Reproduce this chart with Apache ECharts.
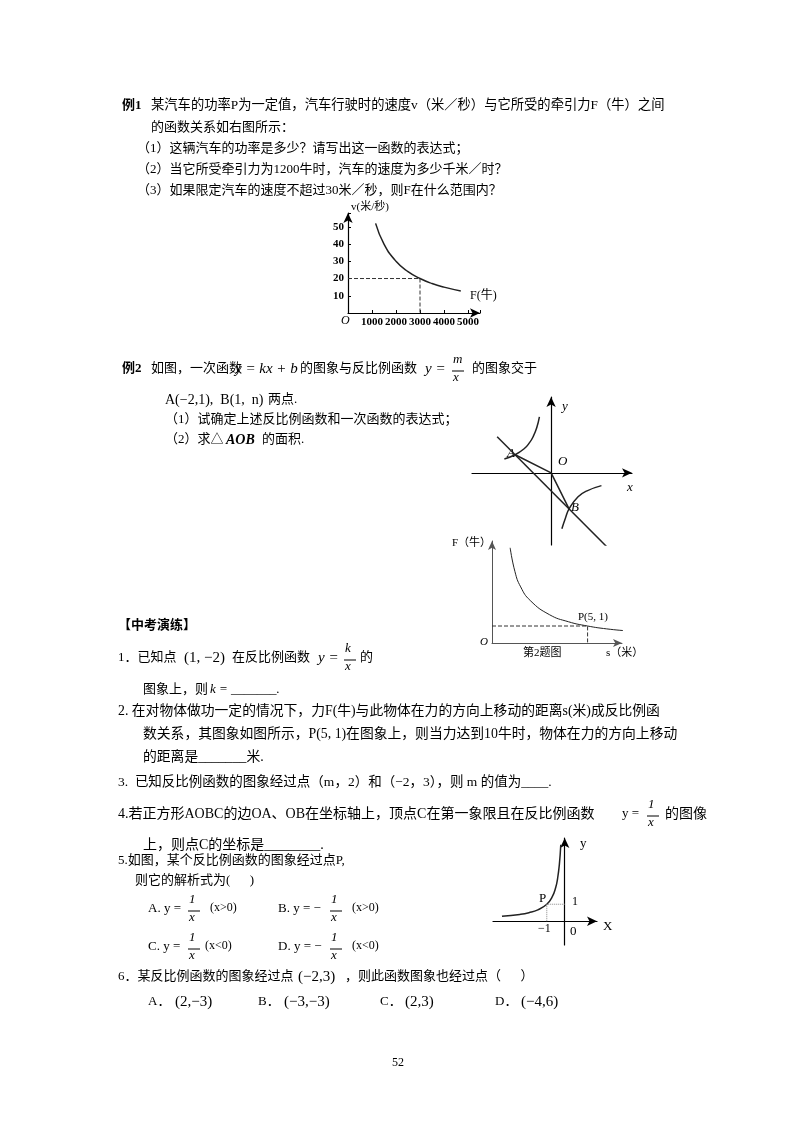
<!DOCTYPE html>
<html><head><meta charset="utf-8">
<script src="https://cdn.jsdelivr.net/npm/echarts@6/dist/echarts.min.js"></script>
<style>html,body{margin:0;padding:0;background:#fff}#c{width:800px;height:1132px}</style>
</head><body><div id="c"></div>
<script>
// Chart 1: v vs F
const c1Curve = [[1150,52],[1500,40],[2000,30],[2500,24],[3000,20],[3500,17.1],[4000,15],[4700,12.8]];
const c1Guide = [[0,20],[3000,20],[3000,0]];
const c1XTicks = [1000,2000,3000,4000,5000];
const c1YTicks = [10,20,30,40,50];
// Chart 2: y=kx+b and y=m/x
const c2Left = [[-2.6,0.77],[-2,1],[-1.5,1.33],[-1.2,1.67],[-1,2],[-0.8,2.5],[-0.65,3.1]];
const c2Right = [[0.6,-3.1],[0.8,-2.5],[1,-2],[1.5,-1.33],[2,-1],[2.8,-0.71]];
const c2Line = [[-3,2],[3.3,-4.3]];
const c2Tri = [[-2,1],[0,0],[1,-2]];
// Chart 3: F vs s
const c3Curve = [[0.95,5.6],[1.2,4.2],[1.5,3.3],[2,2.5],[3,1.67],[4,1.25],[5,1],[6,0.83],[7,0.72]];
const c3Guide = [[0,1],[5,1],[5,0]];
// Chart 4: y=-1/x, x<0
const c4Curve = [[-3.5,0.29],[-2.5,0.4],[-2,0.5],[-1.5,0.67],[-1,1],[-0.7,1.43],[-0.5,2],[-0.4,2.5],[-0.3,3.33],[-0.22,4.5]];
const c4Guide = [[-1,0],[-1,1],[0,1]];

const CJK = '"Liberation Serif","Noto Sans CJK SC"';
const G = [];
function t(x,y,s,o){o=o||{};G.push({type:'text',left:x,top:y-8,style:{text:s,fill:'#000',font:(o.it?'italic ':'')+(o.b?'bold ':'')+(o.fs||13)+'px '+(o.ff||CJK)}});}
function frac(x,y,n,d,fs){fs=fs||13;t(x+1,y-9,n,{it:true,fs});t(x+1,y+9,d,{it:true,fs});G.push({type:'line',shape:{x1:x,y1:y+1,x2:x+12,y2:y+1},style:{stroke:'#000',lineWidth:1}});}

t(122,107,'例1',{b:true});
t(151,107,'某汽车的功率P为一定值，汽车行驶时的速度v（米／秒）与它所受的牵引力F（牛）之间',{fs:13.3});
t(151,129,'的函数关系如右图所示：');
t(137,150,'（1）这辆汽车的功率是多少？请写出这一函数的表达式；');
t(137,171,'（2）当它所受牵引力为1200牛时，汽车的速度为多少千米／时？');
t(137,192,'（3）如果限定汽车的速度不超过30米／秒，则F在什么范围内？');
t(351,210,'v(米/秒)',{fs:11}); t(470,298,'F(牛)',{fs:12}); t(341,323,'O',{it:true,fs:12});
t(122,370,'例2',{b:true}); t(151,370,'如图，一次函数');
t(235,370,'y = kx + b',{it:true,fs:15}); t(300,370,'的图象与反比例函数');
t(425,370,'y =',{it:true,fs:15}); frac(452,370,'m','x'); t(472,370,'的图象交于');
t(165,401,'A(−2,1),  B(1,  n)',{it:false,fs:14}); t(268,401,'两点.');
t(165,421,'（1）试确定上述反比例函数和一次函数的表达式；');
t(165,441,'（2）求△'); t(226,441,'AOB',{it:true,b:true,fs:14}); t(262,441,'的面积.');
t(507,455,'A',{it:true}); t(558,463,'O',{it:true}); t(571,509,'B',{it:true}); t(627,489,'x',{it:true}); t(562,408,'y',{it:true});
t(452,546,'F（牛）',{fs:11}); t(480,645,'O',{it:true,fs:11}); t(578,620,'P(5, 1)',{fs:11}); t(523,656,'第2题图',{fs:11}); t(606,656,'s（米）',{fs:11});
t(118,627,'【中考演练】',{b:true});
t(118,659,'1．已知点'); t(184,659,'(1, −2)',{fs:15}); t(232,659,'在反比例函数');
t(318,659,'y =',{it:true,fs:15}); frac(344,659,'k','x'); t(360,659,'的');
t(143,691,'图象上，则'); t(210,691,'k = _______.',{it:true});
t(118,712,'2. 在对物体做功一定的情况下，力F(牛)与此物体在力的方向上移动的距离s(米)成反比例函',{fs:13.8});
t(143,735,'数关系，其图象如图所示，P(5, 1)在图象上，则当力达到10牛时，物体在力的方向上移动',{fs:13.8});
t(143,758,'的距离是_______米.',{fs:13.8});
t(118,784,'3.  已知反比例函数的图象经过点（m，2）和（−2，3），则 m 的值为____.',{fs:13.5});
t(118,815,'4.若正方形AOBC的边OA、OB在坐标轴上，顶点C在第一象限且在反比例函数',{fs:14});
t(622,815,'y =',{fs:13}); frac(647,815,'1','x');
t(665,815,'的图像',{fs:14});
t(143,846,'上，则点C的坐标是________.',{fs:14});
t(118,862,'5.如图，某个反比例函数的图象经过点P,');
t(135,882,'则它的解析式为(      )');
t(148,910,'A. y ='); frac(188,910,'1','x'); t(210,910,'(x>0)',{fs:12});
t(278,910,'B. y = −'); frac(330,910,'1','x'); t(352,910,'(x>0)',{fs:12});
t(148,948,'C. y ='); frac(188,948,'1','x'); t(205,948,'(x<0)',{fs:12});
t(278,948,'D. y = −'); frac(330,948,'1','x'); t(352,948,'(x<0)',{fs:12});
t(580,845,'y'); t(539,900,'P'); t(572,904,'1',{fs:12}); t(538,931,'−1',{fs:12}); t(570,933,'0'); t(603,928,'X');
t(118,978,'6．某反比例函数的图象经过点'); t(298,978,'(−2,3)',{fs:15}); t(345,978,'，则此函数图象也经过点（      ）');
t(148,1003,'A．'); t(175,1003,'(2,−3)',{fs:15});
t(258,1003,'B．'); t(284,1003,'(−3,−3)',{fs:15});
t(380,1003,'C．'); t(405,1003,'(2,3)',{fs:15});
t(495,1003,'D．'); t(521,1003,'(−4,6)',{fs:15});
t(392,1065,'52',{fs:12});

const ax = (extra)=>Object.assign({axisLine:{onZero:true,symbol:['none','arrow'],symbolSize:[7,10],lineStyle:{color:'#000',width:1.2}},axisTick:{show:false},axisLabel:{show:false},splitLine:{show:false}},extra);
const lbl = {show:true,color:'#000',fontSize:11,fontFamily:'Liberation Serif',fontWeight:'bold'};
const solid = (d,gi,w)=>({type:'line',xAxisIndex:gi,yAxisIndex:gi,data:d,showSymbol:false,smooth:true,lineStyle:{color:'#222',width:w||1.5},silent:true});
const dash = (d,gi)=>({type:'line',xAxisIndex:gi,yAxisIndex:gi,data:d,showSymbol:false,lineStyle:{color:'#333',width:1,type:'dashed'},silent:true});

const option = {
  animation:false,
  graphic:G,
  grid:[
    {left:348,top:213,width:132,height:100},
    {left:472,top:397,width:160,height:148},
    {left:492,top:541,width:130,height:102},
    {left:493,top:838,width:104,height:107}
  ],
  xAxis:[
    ax({type:'value',gridIndex:0,min:0,max:5500,interval:1000,axisTick:{show:true,inside:true,length:3,lineStyle:{color:'#000'}},axisLabel:Object.assign({},lbl,{formatter:v=>c1XTicks.includes(v)?String(v):'',margin:4})}),
    ax({type:'value',gridIndex:1,min:-4.4,max:4.5}),
    ax({type:'value',gridIndex:2,min:0,max:6.8,axisLine:{symbol:['none','arrow'],symbolSize:[6,9],lineStyle:{color:'#555',width:1}}}),
    ax({type:'value',gridIndex:3,min:-4,max:1.8})
  ],
  yAxis:[
    ax({type:'value',gridIndex:0,min:0,max:58,interval:10,axisTick:{show:true,inside:true,length:3,lineStyle:{color:'#000'}},axisLabel:Object.assign({},lbl,{formatter:v=>c1YTicks.includes(v)?String(v):'',margin:4})}),
    ax({type:'value',gridIndex:1,min:-4,max:4.2}),
    ax({type:'value',gridIndex:2,min:0,max:6,axisLine:{symbol:['none','arrow'],symbolSize:[6,9],lineStyle:{color:'#555',width:1}}}),
    ax({type:'value',gridIndex:3,min:-1.4,max:4.9})
  ],
  series:[
    solid(c1Curve,0,1.5), dash(c1Guide,0),
    solid(c2Left,1), solid(c2Right,1),
    Object.assign(solid(c2Line,1),{smooth:false}), Object.assign(solid(c2Tri,1),{smooth:false}),
    solid(c3Curve,2,1), dash(c3Guide,2),
    solid(c4Curve,3,1.5), Object.assign(dash(c4Guide,3),{lineStyle:{color:'#888',width:1,type:'dotted'}})
  ]
};
echarts.init(document.getElementById('c')).setOption(option);
</script></body></html>
